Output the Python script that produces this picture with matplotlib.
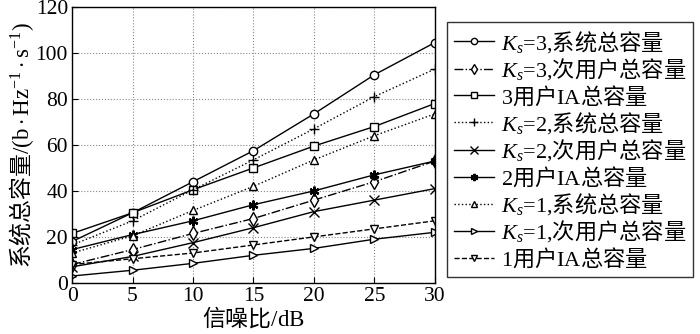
import matplotlib
matplotlib.use("Agg")
import matplotlib.pyplot as plt

plt.rcParams['font.family'] = ['Liberation Serif', 'Noto Sans CJK SC']
plt.rcParams['mathtext.fontset'] = 'custom'
plt.rcParams['mathtext.rm'] = 'Liberation Serif'
plt.rcParams['mathtext.it'] = 'Liberation Serif:italic'
plt.rcParams['mathtext.default'] = 'it'

snr = [0, 5, 10, 15, 20, 25, 30]
ks3_sys = [18, 30.5, 44, 57.5, 73.5, 90.5, 104.5]
ks3_sec = [8, 14.5, 21.5, 28, 36, 44, 53]
ia3 = [21.5, 30.5, 40.5, 50, 59.5, 68, 78]
ks2_sys = [16.5, 27, 40.5, 53.5, 67, 81, 93]
ks2_sec = [7, 11.5, 17.5, 24, 31, 36, 41]
ia2 = [14.5, 21, 27, 34, 40, 47, 53]
ks1_sys = [13, 20.5, 31.5, 42, 53.5, 64, 73.5]
ks1_sec = [3, 5.5, 8.5, 12, 15, 19, 22]
ia1 = [8, 10.5, 13, 16.5, 20, 23.5, 27]

labels = [r'$K_s\text{=3,}$系统总容量', r'$K_s\text{=3,}$次用户总容量', r'$\text{3}$用户$\text{IA}$总容量',
          r'$K_s\text{=2,}$系统总容量', r'$K_s\text{=2,}$次用户总容量', r'$\text{2}$用户$\text{IA}$总容量',
          r'$K_s\text{=1,}$系统总容量', r'$K_s\text{=1,}$次用户总容量', r'$\text{1}$用户$\text{IA}$总容量']
series = [ks3_sys, ks3_sec, ia3, ks2_sys, ks2_sec, ia2, ks1_sys, ks1_sec, ia1]
styles = [('-', 'o'), ('-.', 'd'), ('-', 's'), (':', '+'), ('-', 'x'),
          ('-', (6, 2, 0)), (':', '^'), ('-', '>'), ('--', 'v')]

fig = plt.figure(figsize=(7, 3.34), dpi=100)
ax = fig.add_axes([0.103, 0.153, 0.518, 0.826])
for y, lab, (ls, mk) in zip(series, labels, styles):
    ms = 6
    if mk == 'd':
        ms = 7
    if mk in ('+', 'x') or isinstance(mk, tuple):
        ms = 7
    ax.plot(snr, y, linestyle=ls, marker=mk, color='black', lw=1.0,
            markerfacecolor='white', markeredgecolor='black',
            markersize=ms, markeredgewidth=1.0 if not isinstance(mk, tuple) else 1.6,
            label=lab)

ax.set_xlim(0, 30)
ax.set_ylim(0, 120)
ax.set_xticks(snr)
ax.set_yticks([0, 20, 40, 60, 80, 100, 120])
ax.tick_params(direction='in', labelsize=15.5, length=4, pad=3)
ax.grid(True, linestyle=':', color='#888888', lw=0.8)
for s in ax.spines.values():
    s.set_linewidth(1.0)
ax.set_xlabel(r'信噪比$\text{/dB}$', fontsize=16.5, labelpad=-1, family='Noto Sans CJK SC')
ax.set_ylabel(r'系统总容量$\text{/(b}\cdot\text{Hz}^{-1}\cdot\text{s}^{-1}\text{)}$',
              fontsize=16.5, labelpad=0, family='Noto Sans CJK SC')

leg = fig.legend(loc='upper left', bbox_to_anchor=(0.639, 0.934),
                 handlelength=1.8, handletextpad=0.3, labelspacing=0.07,
                 borderpad=0.3, frameon=True, fancybox=False, edgecolor='black',
                 borderaxespad=0, markerscale=0.75,
                 prop={'family': 'Noto Sans CJK SC', 'size': 16})
leg.get_frame().set_linewidth(1.0)
fig.savefig('out.png', dpi=100)
